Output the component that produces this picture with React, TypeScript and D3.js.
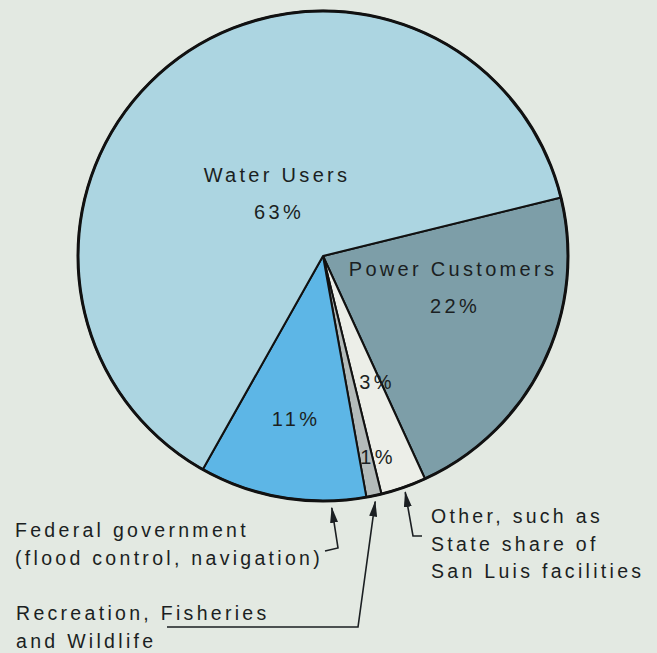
import * as d3 from 'd3';

// slices, clockwise from the Water/Power boundary
const categories = ['Power Customers', 'Other', 'Recreation', 'Federal government', 'Water Users'];
const shares = [22, 3, 1, 11, 63];
const sliceColors = ['#7d9ea8', '#eceee8', '#b4bbba', '#5db6e6', '#acd5e1'];

const calloutLines = [
  ['Federal government', '(flood control, navigation)'],
  ['Recreation, Fisheries', 'and Wildlife'],
  ['Other, such as', 'State share of', 'San Luis facilities'],
];

const W = 657;
const H = 653;
const cx = 323;
const cy = 256;
const R = 245;
const startDeg = 76.2;

const font = '"Liberation Sans", Arial, Helvetica, sans-serif';
const ink = '#1b1f22';

export default function App() {
  const pie = d3.pie<number>().sort(null).value(d => d)
    .startAngle(startDeg * Math.PI / 180)
    .endAngle((startDeg + 360) * Math.PI / 180);
  const arcs = pie(shares);
  const arc = d3.arc<d3.PieArcDatum<number>>().innerRadius(0).outerRadius(R);

  // label offsets from the centre, per slice
  const inside: Record<string, { dx: number; dy: number; name?: boolean }> = {
    'Water Users': { dx: -44, dy: -37, name: true },
    'Power Customers': { dx: 132, dy: 57, name: true },
    'Other': { dx: 54, dy: 133 },
    'Federal government': { dx: -27, dy: 170 },
    'Recreation': { dx: 55, dy: 208 },
  };

  const polar = (deg: number, r: number): [number, number] => {
    const a = deg * Math.PI / 180;
    return [cx + r * Math.sin(a), cy - r * Math.cos(a)];
  };
  const midDeg = (i: number) => ((arcs[i].startAngle + arcs[i].endAngle) / 2) * 180 / Math.PI;

  // leader lines: elbow points then the arrow tip on the rim
  const fedTip = polar(178, R + 7);
  const recTip = polar(midDeg(2), R + 6);
  const othTip = polar(midDeg(1), R + 5);
  const leaders: [number, number][][] = [
    [[325, 551], [338, 548], fedTip],
    [[167, 627], [358, 627], recTip],
    [[422, 536], [413, 536], othTip],
  ];
  const line = d3.line();

  const textBlocks = [
    { x: 15, y: 537, lines: calloutLines[0] },
    { x: 16, y: 620, lines: calloutLines[1] },
    { x: 431, y: 523, lines: calloutLines[2] },
  ];

  return (
    <svg width={W} height={H} style={{ position: 'absolute', left: 0, top: 0, background: '#e3e9e2' }}>
      <defs>
        <marker id="arrow" viewBox="0 0 16 8" refX="15" refY="4" markerWidth="16" markerHeight="8"
          markerUnits="userSpaceOnUse" orient="auto">
          <path d="M0,0 L16,4 L0,8 z" fill={ink} />
        </marker>
      </defs>
      <rect width={W} height={H} fill="#e3e9e2" />
      <g transform={`translate(${cx},${cy})`}>
        {arcs.map((a, i) => (
          <path key={categories[i]} d={arc(a) || ''} fill={sliceColors[i]} stroke="#111" strokeWidth={2}
            strokeLinejoin="round" />
        ))}
        <circle r={R} fill="none" stroke="#111" strokeWidth={3} />
      </g>

      <g fontFamily={font} fontSize={20} fill={ink} letterSpacing={3.3} textAnchor="middle">
        {arcs.map((a, i) => {
          const p = inside[categories[i]];
          return (
            <g key={categories[i]}>
              {p.name && <text x={cx + p.dx - 2} y={cy + p.dy - 37}>{categories[i]}</text>}
              <text x={cx + p.dx} y={cy + p.dy}>{`${shares[i]}%`}</text>
            </g>
          );
        })}
      </g>

      <g fill="none" stroke={ink} strokeWidth={1.6}>
        {leaders.map((pts, i) => (
          <path key={i} d={line(pts) || ''} markerEnd="url(#arrow)" />
        ))}
      </g>

      <g fontFamily={font} fontSize={19.5} fill={ink} letterSpacing={3.3}>
        {textBlocks.map((b, i) =>
          b.lines.map((t, j) => (
            <text key={`${i}-${j}`} x={b.x} y={b.y + j * 27.5}>{t}</text>
          ))
        )}
      </g>
    </svg>
  );
}
